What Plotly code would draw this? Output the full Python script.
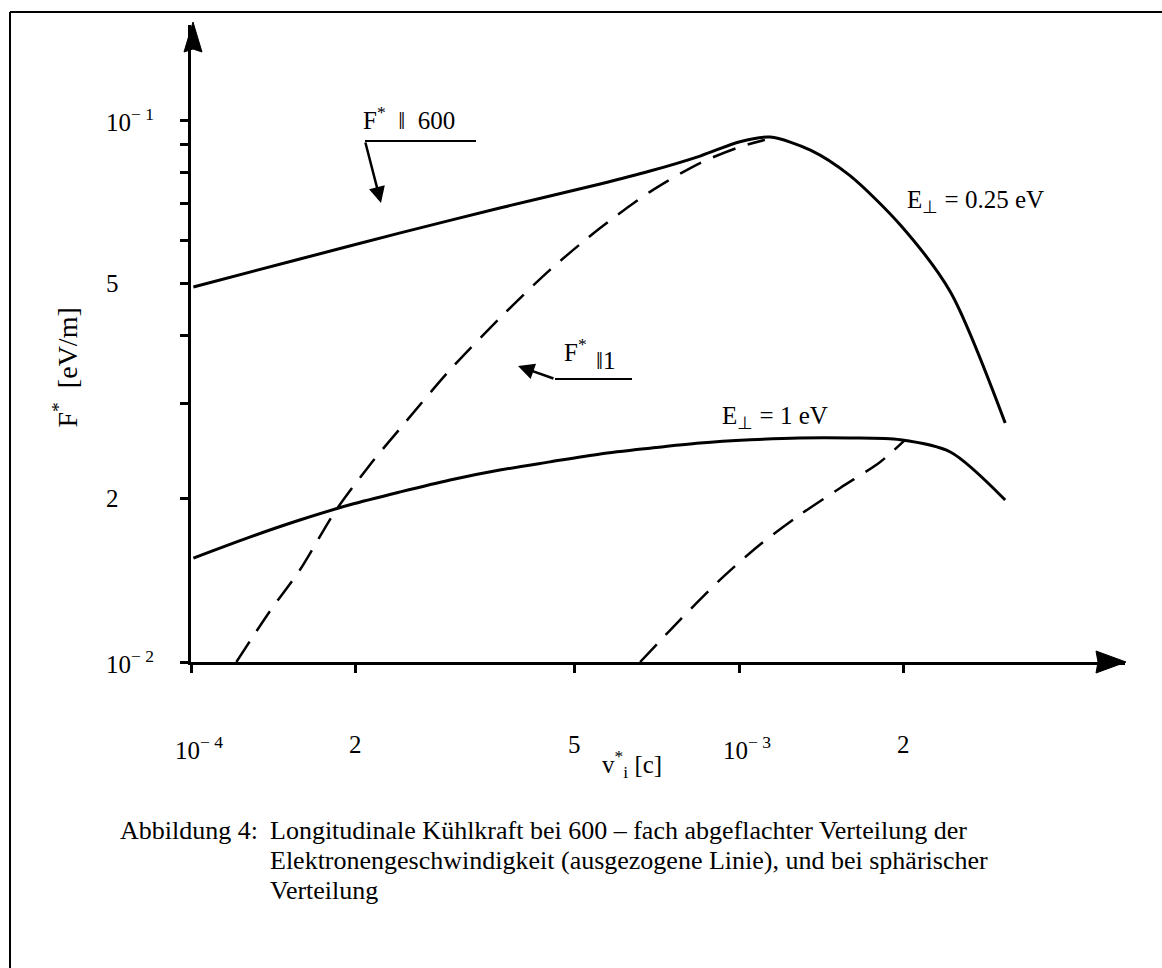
import math
import plotly.graph_objects as go

# ---- data ----
x_solid_025 = [1.01e-4, 1.58e-4, 2.41e-4, 3.66e-4, 5.58e-4, 6.88e-4, 8.49e-4, 1.004e-3,
               1.14e-3, 1.35e-3, 1.59e-3, 1.97e-3, 2.43e-3, 3.06e-3]
y_solid_025 = [0.0492, 0.0554, 0.0619, 0.0688, 0.0762, 0.0805, 0.0858, 0.0912,
               0.0930, 0.0880, 0.0791, 0.0640, 0.0482, 0.0276]

x_dash_025 = [1.21e-4, 1.39e-4, 1.58e-4, 1.83e-4, 2.12e-4, 2.41e-4, 2.97e-4, 3.66e-4,
              4.52e-4, 5.58e-4, 6.88e-4, 8.49e-4, 1.004e-3, 1.115e-3]
y_dash_025 = [0.0100, 0.01237, 0.01478, 0.01891, 0.0231, 0.0270, 0.0346, 0.0431,
              0.0529, 0.0632, 0.0737, 0.0833, 0.0892, 0.0919]

x_solid_1 = [1.01e-4, 1.28e-4, 1.58e-4, 1.95e-4, 2.41e-4, 2.97e-4, 3.66e-4, 4.52e-4,
             5.58e-4, 6.88e-4, 8.49e-4, 1.05e-3, 1.29e-3, 1.59e-3, 1.97e-3, 2.43e-3, 3.06e-3]
y_solid_1 = [0.01555, 0.0170, 0.01828, 0.0195, 0.0206, 0.02167, 0.0226, 0.0234,
             0.0242, 0.0248, 0.02535, 0.0257, 0.0259, 0.0259, 0.0257, 0.0244, 0.0199]

x_dash_1 = [6.6e-4, 7.8e-4, 9.23e-4, 1.09e-3, 1.29e-3, 1.53e-3, 1.81e-3, 2.01e-3]
y_dash_1 = [0.0100, 0.01195, 0.01417, 0.01644, 0.01867, 0.02095, 0.0234, 0.0257]

x_tickvals = [1e-4, 2e-4, 5e-4, 1e-3, 2e-3]
x_ticktext = ["10<sup>− 4</sup>", "2", "5", "10<sup>− 3</sup>", "2"]
y_tickvals = [0.01, 0.02, 0.03, 0.04, 0.05, 0.06, 0.07, 0.08, 0.09, 0.1]
y_labelvals = [0.1, 0.05, 0.02, 0.01]
y_labeltext = ["10<sup>− 1</sup>", "5", "2", "10<sup>− 2</sup>"]

caption_head = "Abbildung 4:"
caption_lines = ["Longitudinale Kühlkraft bei 600 – fach abgeflachter Verteilung der",
                 "Elektronengeschwindigkeit (ausgezogene Linie), und bei sphärischer",
                 "Verteilung"]

FONT = "Liberation Serif, Times New Roman, serif"

# ---- layout geometry (pixels) ----
W, H = 1162, 968
L, R, T, B = 191, 1125, 25, 662   # plot area edges


def PX(px):
    return (px - L) / (R - L)


def PY(py):
    return (B - py) / (B - T)


fig = go.Figure()
solid = dict(color="black", width=3, shape="spline", smoothing=0.8)
dashed = dict(color="black", width=2.5, dash="24px,13px", shape="spline", smoothing=0.8)
fig.add_trace(go.Scatter(x=x_solid_025, y=y_solid_025, mode="lines", line=solid))
fig.add_trace(go.Scatter(x=x_dash_025, y=y_dash_025, mode="lines", line=dashed))
fig.add_trace(go.Scatter(x=x_solid_1, y=y_solid_1, mode="lines", line=solid))
fig.add_trace(go.Scatter(x=x_dash_1, y=y_dash_1, mode="lines", line=dashed))

fig.update_xaxes(type="log", range=[-4, -4 + (R - L) / 548], showgrid=False, zeroline=False,
                 showline=True, linewidth=3, linecolor="black",
                 ticks="outside", ticklen=8, tickwidth=3, tickcolor="black",
                 tickvals=x_tickvals, showticklabels=False)
fig.update_yaxes(type="log", range=[-2, -2 + (B - T) / 542], showgrid=False, zeroline=False,
                 showline=True, linewidth=3, linecolor="black",
                 ticks="outside", ticklen=8, tickwidth=3, tickcolor="black",
                 tickvals=y_tickvals, showticklabels=False)

shapes = []
# frame (top and left)
shapes.append(dict(type="line", xref="paper", yref="paper", x0=PX(10), x1=PX(1162),
                   y0=PY(12), y1=PY(12), line=dict(color="black", width=2)))
shapes.append(dict(type="line", xref="paper", yref="paper", x0=PX(10), x1=PX(10),
                   y0=PY(12), y1=PY(968), line=dict(color="black", width=2)))
# axis arrowheads
shapes.append(dict(type="path", xref="paper", yref="paper",
                   path=f"M {PX(1126)} {PY(662)} L {PX(1096)} {PY(651)} L {PX(1098)} {PY(662)} L {PX(1096)} {PY(673)} Z",
                   fillcolor="black", line=dict(color="black", width=1)))
shapes.append(dict(type="path", xref="paper", yref="paper",
                   path=f"M {PX(193)} {PY(22)} L {PX(184)} {PY(52)} L {PX(193)} {PY(49)} L {PX(202)} {PY(52)} Z",
                   fillcolor="black", line=dict(color="black", width=1)))
# annotation leader lines
shapes.append(dict(type="line", xref="paper", yref="paper", x0=PX(365), x1=PX(476),
                   y0=PY(141), y1=PY(141), line=dict(color="black", width=2)))
shapes.append(dict(type="line", xref="paper", yref="paper", x0=PX(555), x1=PX(632),
                   y0=PY(379), y1=PY(379), line=dict(color="black", width=2)))

ann = []
tf = dict(family=FONT, size=25, color="black")
cf = dict(family=FONT, size=26, color="black")
# y tick labels
for v, t in zip(y_labelvals, y_labeltext):
    ann.append(dict(x=PX(104), y=math.log10(v), xref="paper", yref="y", text=t,
                    showarrow=False, xanchor="left", yanchor="middle", font=tf))
# x tick labels
for v, t in zip(x_tickvals, x_ticktext):
    ann.append(dict(x=math.log10(v), y=PY(744), xref="x", yref="paper", text=t,
                    showarrow=False, xanchor="center", yanchor="middle", font=tf,
                    xshift=8 if "10" in t else 0, yshift=-4 if "10" in t else 0))
# axis titles
ann.append(dict(x=PX(632), y=PY(784), xref="paper", yref="paper",
                text="v<sup>*</sup><sub>i</sub> [c]", showarrow=False, font=tf))
ann.append(dict(x=PX(46), y=PY(368), xref="paper", yref="paper",
                text="F<sup>*</sup>  [eV/m]", showarrow=False, textangle=-90,
                font=dict(family=FONT, size=28, color="black")))
# curve labels
ann.append(dict(x=PX(361), y=PY(136), xref="paper", yref="paper", xanchor="left",
                yanchor="bottom", text="F<sup>*</sup>  ‖  600", showarrow=False, font=tf))
ann.append(dict(x=PX(562), y=PY(368), xref="paper", yref="paper", xanchor="left",
                yanchor="bottom", text="F<sup>*</sup>", showarrow=False, font=tf))
ann.append(dict(x=PX(594), y=PY(376), xref="paper", yref="paper", xanchor="left",
                yanchor="bottom", text="‖1", showarrow=False, font=tf))
ann.append(dict(x=PX(720), y=PY(417), xref="paper", yref="paper", xanchor="left",
                text="E<sub>⊥</sub> = 1 eV", showarrow=False, font=tf))
ann.append(dict(x=PX(905), y=PY(184), xref="paper", yref="paper", xanchor="left",
                text="E<sub>⊥</sub> = 0.25 eV", showarrow=False, font=tf))
# arrows
ann.append(dict(x=PX(381), y=PY(203), xref="paper", yref="paper", text="",
                showarrow=True, ax=-16, ay=-62, arrowhead=2, arrowsize=1.3,
                arrowwidth=2.5, arrowcolor="black"))
ann.append(dict(x=PX(518), y=PY(366), xref="paper", yref="paper", text="",
                showarrow=True, ax=37, ay=13, arrowhead=2, arrowsize=1.3,
                arrowwidth=2.5, arrowcolor="black"))
# caption
ann.append(dict(x=PX(118), y=PY(830), xref="paper", yref="paper", xanchor="left",
                yanchor="middle", text=caption_head, showarrow=False, font=cf))
for i, t in enumerate(caption_lines):
    ann.append(dict(x=PX(268), y=PY(830 + 30 * i), xref="paper", yref="paper",
                    xanchor="left", yanchor="middle", showarrow=False, font=cf, text=t))

fig.update_layout(width=W, height=H, margin=dict(l=L, r=W - R, t=T, b=H - B),
                  paper_bgcolor="white", plot_bgcolor="white", showlegend=False,
                  shapes=shapes, annotations=ann, font=tf)
fig.write_html("out.html")
